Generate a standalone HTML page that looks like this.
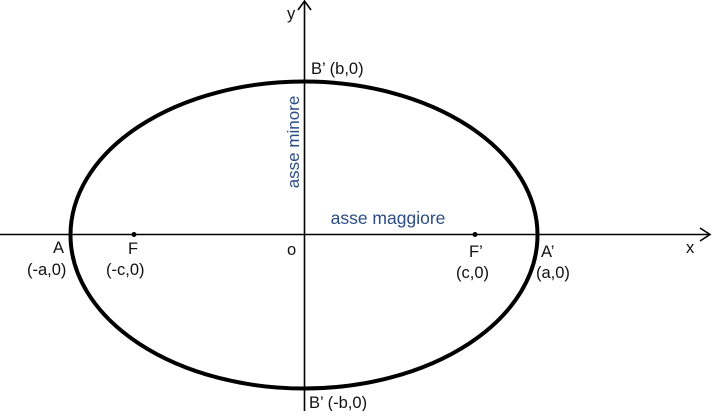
<!DOCTYPE html>
<html><head><style>body{margin:0;background:#fff}</style></head><body>
<svg width="712" height="411" viewBox="0 0 712 411" xmlns="http://www.w3.org/2000/svg" font-family="Liberation Sans, sans-serif">
<rect width="712" height="411" fill="#fff"/>
<line x1="0" y1="234.5" x2="710" y2="234.5" stroke="#000" stroke-width="1.6"/>
<polyline points="700,228 710,234.5 700,241" fill="none" stroke="#000" stroke-width="1.6"/>
<line x1="304.5" y1="1" x2="304.5" y2="411" stroke="#000" stroke-width="1.6"/>
<polyline points="298,10 304.5,1 311,10" fill="none" stroke="#000" stroke-width="1.6"/>
<ellipse cx="304" cy="235" rx="233.5" ry="153.5" fill="none" stroke="#000" stroke-width="4"/>
<circle cx="134" cy="234.5" r="2.5" fill="#000"/>
<circle cx="475" cy="234.5" r="2.5" fill="#000"/>
<g font-size="16.5" fill="#111">
<text x="287" y="19">y</text>
<text x="686" y="253">x</text>
<text x="287" y="255">o</text>
<text x="53" y="253">A</text>
<text x="27" y="275">(-a,0)</text>
<text x="128" y="254">F</text>
<text x="106" y="275">(-c,0)</text>
<text x="469" y="257">F’</text>
<text x="456" y="278">(c,0)</text>
<text x="541" y="257">A’</text>
<text x="536" y="278">(a,0)</text>
<text x="311" y="74">B’ (b,0)</text>
<text x="309" y="408">B’ (-b,0)</text>
</g>
<text x="388" y="224" font-size="17.5" fill="#2b4c84" text-anchor="middle">asse maggiore</text>
<text transform="translate(299,142) rotate(-90)" font-size="17" fill="#2b4c84" text-anchor="middle">asse minore</text>
</svg>
</body></html>
